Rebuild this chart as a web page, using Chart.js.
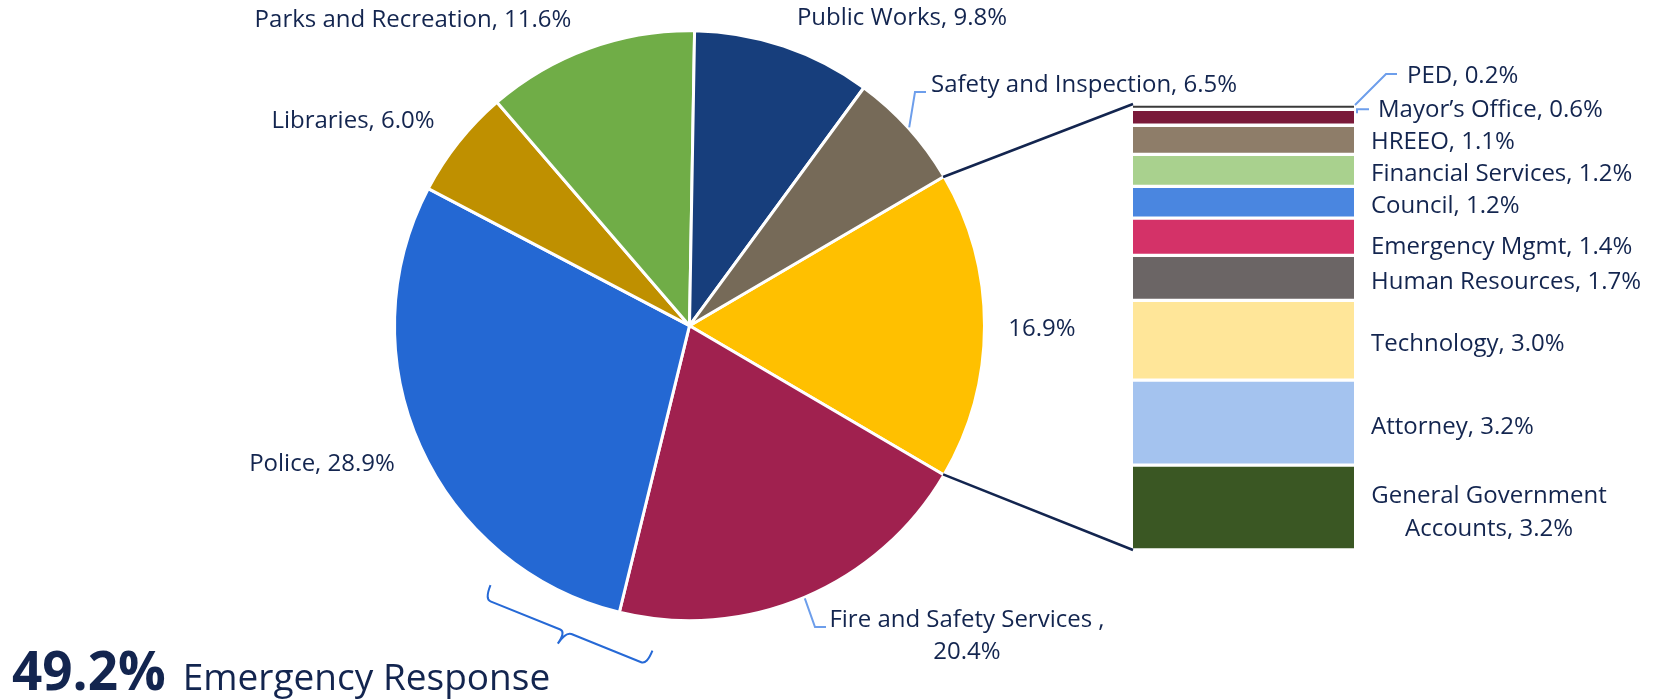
<!DOCTYPE html>
<html>
<head>
<meta charset="utf-8">
<script src="https://cdn.jsdelivr.net/npm/chart.js@4.4.1/dist/chart.umd.min.js"></script>
<style>
  html, body { margin: 0; padding: 0; background: #fff; }
  #wrap { position: relative; width: 1658px; height: 699px; }
  #wrap canvas { position: absolute; left: 0; top: 0; }
</style>
</head>
<body>
<div id="wrap">
  <canvas id="pie" width="1658" height="699"></canvas>
  <canvas id="bar" width="1658" height="699"></canvas>
</div>
<script>
// pie slices, clockwise starting with the "other" slice that is broken out into the bar
const pieLabels = ["Other Departments", "Fire and Safety Services ", "Police", "Libraries", "Parks and Recreation", "Public Works", "Safety and Inspection"];
const pieValues = [16.9, 20.4, 28.9, 6.0, 11.6, 9.8, 6.5];
const pieColors = ["#ffc000", "#a0214f", "#2468d3", "#bf9000", "#70ad47", "#173e7c", "#766a58"];

// bar segments, bottom to top
const barLabels = ["General Government Accounts", "Attorney", "Technology", "Human Resources", "Emergency Mgmt", "Council", "Financial Services", "HREEO", "Mayor’s Office", "PED"];
const barValues = [3.2, 3.2, 3.0, 1.7, 1.4, 1.2, 1.2, 1.1, 0.6, 0.2];
const barColors = ["#3a5723", "#a4c3ef", "#ffe699", "#6b6565", "#d43268", "#4a86e0", "#a9d18e", "#8e7d69", "#7a1a3a", "#3a3a3a"];

const summaryValue = "49.2%";
const summaryText = "Emergency Response";

const textColor = "#13254f";
const leaderColor = "#6d9eeb";
const braceColor = "#2669d6";
const font = "Open Sans";

// where each pie label sits (text anchor, alphabetic baseline)
const pieLabelSpots = [
  { x: 1042, y: 336, align: "center", valueOnly: true },
  { x: 967, y: 627, align: "center", wrap: true, leader: [[815, 627], [826, 627]] },
  { x: 322, y: 471, align: "center" },
  { x: 353, y: 128, align: "center" },
  { x: 413, y: 27, align: "center" },
  { x: 902, y: 25, align: "center" },
  { x: 931, y: 92, align: "left", leader: [[915, 92], [926, 92]] }
];

const pieSum = pieValues.reduce((a, b) => a + b, 0);
const barSum = barValues.reduce((a, b) => a + b, 0);
const pct = v => v.toFixed(1) + "%";

// labels, leaders, brace and summary for the pie
const pieDecor = {
  id: "pieDecor",
  afterDraw(chart) {
    const ctx = chart.ctx;
    const arcs = chart.getDatasetMeta(0).data;
    ctx.save();
    ctx.font = "24px '" + font + "'";
    ctx.fillStyle = textColor;
    ctx.textBaseline = "alphabetic";

    arcs.forEach((arc, i) => {
      const spot = pieLabelSpots[i];
      ctx.textAlign = spot.align;
      if (spot.valueOnly) {
        ctx.fillText(pct(pieValues[i]), spot.x, spot.y);
      } else if (spot.wrap) {
        ctx.fillText(pieLabels[i] + ",", spot.x, spot.y);
        ctx.fillText(pct(pieValues[i]), spot.x, spot.y + 32);
      } else {
        ctx.fillText(pieLabels[i] + ", " + pct(pieValues[i]), spot.x, spot.y);
      }
      if (spot.leader) {
        const mid = (arc.startAngle + arc.endAngle) / 2;
        const r = arc.outerRadius + 1;
        ctx.beginPath();
        ctx.strokeStyle = leaderColor;
        ctx.lineWidth = 2;
        ctx.moveTo(arc.x + Math.cos(mid) * r, arc.y + Math.sin(mid) * r);
        spot.leader.forEach(p => ctx.lineTo(p[0], p[1]));
        ctx.stroke();
      }
    });

    // brace under police + fire
    const a0 = arcs[0];
    const R = a0.outerRadius;
    const ang = (202 - 90) * Math.PI / 180;
    const d = R * 1.119;
    const half = R * 0.296;
    const cx = a0.x + Math.cos(ang) * d, cy = a0.y + Math.sin(ang) * d;
    const ux = Math.sin(ang), uy = -Math.cos(ang);       // along the brace, left to right
    const nx = -Math.cos(ang), ny = -Math.sin(ang);      // toward the pie
    const Lx = cx - ux * half, Ly = cy - uy * half;
    const Rx = cx + ux * half, Ry = cy + uy * half;
    const hook = 15, tick = 14, bend = 6;
    ctx.beginPath();
    ctx.strokeStyle = braceColor;
    ctx.lineWidth = 2;
    ctx.lineJoin = "round";
    ctx.moveTo(Lx + nx * hook, Ly + ny * hook);
    ctx.quadraticCurveTo(Lx, Ly, Lx + ux * bend, Ly + uy * bend);
    ctx.lineTo(cx - ux * bend, cy - uy * bend);
    ctx.quadraticCurveTo(cx, cy, cx - nx * tick - ux * 3, cy - ny * tick - uy * 3);
    ctx.moveTo(cx - nx * tick - ux * 3, cy - ny * tick - uy * 3);
    ctx.quadraticCurveTo(cx, cy, cx + ux * bend, cy + uy * bend);
    ctx.lineTo(Rx - ux * bend, Ry - uy * bend);
    ctx.quadraticCurveTo(Rx, Ry, Rx + nx * hook, Ry + ny * hook);
    ctx.stroke();

    // summary line
    ctx.textAlign = "left";
    ctx.font = "bold 53px '" + font + "'";
    ctx.fillText(summaryValue, 12, 690);
    const w = ctx.measureText(summaryValue).width;
    ctx.font = "37px '" + font + "'";
    ctx.fillText(summaryText, 12 + w + 17, 690);
    ctx.restore();
  }
};

const pieChart = new Chart(document.getElementById("pie"), {
  type: "pie",
  data: {
    labels: pieLabels,
    datasets: [{
      data: pieValues,
      backgroundColor: pieColors,
      borderColor: "#ffffff",
      borderWidth: 3
    }]
  },
  options: {
    responsive: false,
    animation: false,
    radius: 295,
    rotation: 90 - 180 * pieValues[0] / pieSum,
    layout: { padding: { left: 0, right: 279, top: 0, bottom: 47.6 } },
    plugins: { legend: { display: false }, tooltip: { enabled: false } }
  },
  plugins: [pieDecor]
});

// labels for the bar and the two connectors back to the pie
const barDecor = {
  id: "barDecor",
  afterDraw(chart) {
    const ctx = chart.ctx;
    ctx.save();
    ctx.font = "24px '" + font + "'";
    ctx.fillStyle = textColor;
    ctx.textBaseline = "alphabetic";
    ctx.strokeStyle = leaderColor;
    ctx.lineWidth = 2;

    let top = Infinity, bottom = -Infinity, left = 0, right = 0;
    barLabels.forEach((name, i) => {
      const el = chart.getDatasetMeta(i).data[0];
      const y0 = Math.min(el.y, el.base), y1 = Math.max(el.y, el.base);
      top = Math.min(top, y0); bottom = Math.max(bottom, y1);
      left = el.x - el.width / 2; right = el.x + el.width / 2;
      const mid = (y0 + y1) / 2;
      const text = name + ", " + pct(barValues[i]);
      ctx.textAlign = "left";
      if (name === "PED") {
        const by = y0 - 21;
        ctx.beginPath();
        ctx.moveTo(right + 1, y0 + 1);
        ctx.lineTo(right + 32, by - 9);
        ctx.lineTo(right + 43, by - 9);
        ctx.stroke();
        ctx.fillText(text, right + 53, by);
      } else if (name === "Mayor’s Office") {
        ctx.beginPath();
        ctx.moveTo(right + 3, mid - 4);
        ctx.lineTo(right + 3, mid - 8);
        ctx.lineTo(right + 15, mid - 8);
        ctx.stroke();
        ctx.fillText(text, right + 24, mid);
      } else if (name === "General Government Accounts") {
        ctx.textAlign = "center";
        ctx.fillText("General Government", right + 135, mid - 5);
        ctx.fillText("Accounts, " + pct(barValues[i]), right + 135, mid + 28);
      } else if (name === "Emergency Mgmt") {
        ctx.fillText(text, right + 17, mid + 17);
      } else if (name === "HREEO") {
        ctx.fillText(text, right + 17, mid + 9);
      } else {
        ctx.fillText(text, right + 17, mid + 11);
      }
    });

    // connectors from the broken-out slice to the bar
    const arc = pieChart.getDatasetMeta(0).data[0];
    const r = arc.outerRadius - 1;
    ctx.beginPath();
    ctx.strokeStyle = textColor;
    ctx.lineWidth = 2.5;
    ctx.moveTo(arc.x + Math.cos(arc.startAngle) * r, arc.y + Math.sin(arc.startAngle) * r);
    ctx.lineTo(left, top);
    ctx.moveTo(arc.x + Math.cos(arc.endAngle) * r, arc.y + Math.sin(arc.endAngle) * r);
    ctx.lineTo(left, bottom);
    ctx.stroke();
    ctx.restore();
  }
};

new Chart(document.getElementById("bar"), {
  type: "bar",
  data: {
    labels: ["Other"],
    datasets: barLabels.map((name, i) => ({
      label: name,
      data: [barValues[i]],
      backgroundColor: barColors[i],
      borderColor: "#ffffff",
      borderWidth: { top: 2, bottom: 2, left: 0, right: 0 },
      borderSkipped: false,
      categoryPercentage: 1,
      barPercentage: 1
    }))
  },
  options: {
    responsive: false,
    animation: false,
    layout: { padding: { left: 1133, right: 304, top: 104, bottom: 149 } },
    scales: {
      x: { display: false, stacked: true },
      y: { display: false, stacked: true, min: 0, max: barSum }
    },
    plugins: { legend: { display: false }, tooltip: { enabled: false } }
  },
  plugins: [barDecor]
});
</script>
</body>
</html>
